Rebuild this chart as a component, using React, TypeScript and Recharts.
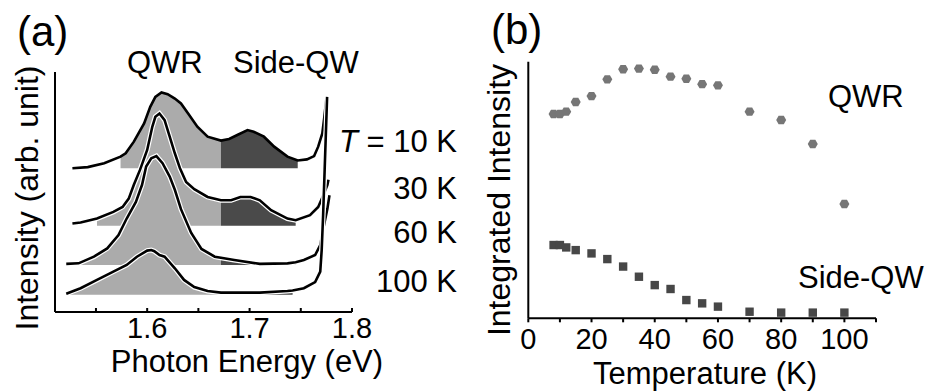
import React from 'react';
import { ComposedChart, Area, Line, Scatter, XAxis, YAxis } from 'recharts';

// ---------- Panel (a): PL spectra (photon energy in eV, stacked intensity in arb. units) ----------
const energy10K = [1.527, 1.542, 1.558, 1.574, 1.579, 1.587, 1.597, 1.603, 1.608, 1.614, 1.620, 1.627, 1.633, 1.640, 1.649, 1.659, 1.672, 1.680, 1.688, 1.698, 1.704, 1.714, 1.724, 1.737, 1.747, 1.756, 1.763, 1.767, 1.771, 1.773, 1.775];
const intensity10K = [2.26, 2.28, 2.35, 2.47, 2.53, 2.74, 3.07, 3.37, 3.55, 3.63, 3.60, 3.52, 3.43, 3.25, 3.01, 2.83, 2.76, 2.79, 2.86, 2.95, 2.92, 2.83, 2.65, 2.47, 2.40, 2.42, 2.48, 2.65, 2.89, 3.19, 3.52];

const energy30K = [1.527, 1.535, 1.551, 1.567, 1.576, 1.582, 1.587, 1.593, 1.600, 1.605, 1.608, 1.612, 1.617, 1.622, 1.627, 1.632, 1.638, 1.646, 1.659, 1.672, 1.682, 1.691, 1.701, 1.710, 1.721, 1.737, 1.745, 1.759, 1.767, 1.772, 1.776, 1.777];
const intensity30K = [1.26, 1.28, 1.35, 1.47, 1.56, 1.71, 1.96, 2.23, 2.59, 3.01, 3.19, 3.25, 3.13, 2.83, 2.53, 2.26, 2.01, 1.88, 1.74, 1.68, 1.68, 1.74, 1.74, 1.68, 1.50, 1.35, 1.32, 1.41, 1.56, 1.77, 1.96, 2.05];

const energy60K = [1.521, 1.533, 1.548, 1.561, 1.572, 1.580, 1.589, 1.595, 1.599, 1.604, 1.609, 1.615, 1.622, 1.627, 1.633, 1.643, 1.653, 1.666, 1.672, 1.685, 1.710, 1.737, 1.745, 1.753, 1.764, 1.769, 1.772, 1.776, 1.778];
const intensity60K = [0.53, 0.54, 0.66, 0.81, 1.05, 1.35, 1.65, 1.96, 2.29, 2.44, 2.48, 2.35, 2.11, 1.87, 1.52, 1.09, 0.80, 0.66, 0.64, 0.60, 0.53, 0.54, 0.56, 0.60, 0.69, 0.87, 1.17, 1.53, 1.77];

const energy100K = [1.521, 1.535, 1.551, 1.567, 1.580, 1.590, 1.600, 1.604, 1.607, 1.612, 1.617, 1.627, 1.636, 1.646, 1.659, 1.672, 1.710, 1.737, 1.742, 1.753, 1.764, 1.769, 1.7704, 1.7718, 1.7733, 1.7746, 1.7757];
const intensity100K = [-0.01, 0.09, 0.24, 0.39, 0.51, 0.66, 0.77, 0.78, 0.76, 0.69, 0.66, 0.45, 0.24, 0.11, 0.04, 0.01, 0.01, 0.04, 0.05, 0.09, 0.20, 0.39, 0.78, 1.41, 2.23, 2.95, 3.55];

const spectrumBaselines = [2.26, 1.22, 0.51, -0.03];
const qwrFillStart = [1.574, 1.551, 1.521, 1.521];
const qwrSideSplit = 1.672;
const sideFillEnd = [1.747, 1.745, 1.745, 1.742];
const temperatureLabels = ['T = 10 K', '30 K', '60 K', '100 K'];

const energyTicks = [1.55, 1.6, 1.65, 1.7, 1.75, 1.8];
const energyTickLabels = ['', '1.6', '', '1.7', '', '1.8'];
const intensityTicks = [0, 1, 2, 3, 4];

// ---------- Panel (b): integrated intensity vs temperature ----------
const temperatures = [8, 10, 12, 15, 20, 25, 30, 35, 40, 45, 50, 55, 60, 70, 80, 90, 100];
const qwrIntegrated = [6.83, 6.83, 6.91, 7.23, 7.43, 7.99, 8.33, 8.35, 8.31, 8.08, 8.01, 7.83, 7.79, 6.91, 6.63, 5.83, 3.82];
const sideQwIntegrated = [2.45, 2.45, 2.37, 2.28, 2.17, 1.98, 1.73, 1.39, 1.11, 0.98, 0.61, 0.50, 0.39, 0.22, 0.19, 0.19, 0.19];

const temperatureTicks = [0, 10, 20, 30, 40, 50, 60, 70, 80, 90, 100, 110];
const temperatureTickLabels = ['0', '', '20', '', '40', '', '60', '', '80', '', '100', ''];
const integratedTicks = [0, 1, 2, 3, 4, 5, 6, 7, 8];

const FONT = '"Liberation Sans", Arial, Helvetica, sans-serif';
const LIGHT = '#ababab';
const DARK = '#4a4a4a';

const zip = (e: number[], v: number[]) => e.map((x, i) => ({ e: x, v: v[i] }));
const spectra = [
  zip(energy10K, intensity10K),
  zip(energy30K, intensity30K),
  zip(energy60K, intensity60K),
  zip(energy100K, intensity100K),
];

const qwrPoints = temperatures.map((t, i) => ({ t, v: qwrIntegrated[i] }));
const sidePoints = temperatures.map((t, i) => ({ t, v: sideQwIntegrated[i] }));

const Hex = (props: any) => {
  const { cx, cy } = props;
  const pts = [
    [cx - 5, cy], [cx - 2.6, cy - 4.2], [cx + 2.6, cy - 4.2],
    [cx + 5, cy], [cx + 2.6, cy + 4.2], [cx - 2.6, cy + 4.2],
  ].map((p) => p.join(',')).join(' ');
  return <polygon points={pts} fill="#767676" />;
};
const Sq = (props: any) => {
  const { cx, cy } = props;
  return <rect x={cx - 4.2} y={cy - 4.2} width={8.4} height={8.4} fill="#474747" />;
};

const axisStyle = { stroke: '#000', strokeWidth: 2 };

export default function App() {
  const seriesA: React.ReactNode[] = [];
  spectra.forEach((data, i) => {
    const base = spectrumBaselines[i];
    const light = data.filter((d) => d.e >= qwrFillStart[i] && d.e <= qwrSideSplit);
    const dark = data.filter((d) => d.e >= qwrSideSplit && d.e <= sideFillEnd[i]);
    seriesA.push(
      <Area key={`l${i}`} data={light} type="linear" dataKey={(d: any) => [base, d.v]}
        fill={LIGHT} fillOpacity={1} stroke="none" isAnimationActive={false} dot={false} activeDot={false} />
    );
    seriesA.push(
      <Area key={`d${i}`} data={dark} type="linear" dataKey={(d: any) => [base, d.v]}
        fill={DARK} fillOpacity={1} stroke="none" isAnimationActive={false} dot={false} activeDot={false} />
    );
    if (i > 0) {
      seriesA.push(
        <Line key={`h${i}`} data={data} type="linear" dataKey="v" stroke="#fff" strokeWidth={5}
          dot={false} activeDot={false} isAnimationActive={false} />
      );
    }
    seriesA.push(
      <Line key={`c${i}`} data={data} type="linear" dataKey="v" stroke="#000" strokeWidth={2.6}
        dot={false} activeDot={false} isAnimationActive={false} />
    );
  });

  const txt = { fontFamily: FONT, fill: '#000' };

  return (
    <div style={{ position: 'absolute', left: 0, top: 0, width: 932, height: 391, background: '#fff' }}>
      <div style={{ position: 'absolute', left: 0, top: 0 }}>
        <ComposedChart width={466} height={391} margin={{ top: 72, right: 114, bottom: 49, left: 25 }}>
          <XAxis type="number" dataKey="e" domain={[1.51, 1.8]} allowDataOverflow ticks={energyTicks}
            tickFormatter={(v: number) => energyTickLabels[energyTicks.indexOf(v)] ?? ''}
            interval={0} height={30} tickSize={-4} tickMargin={9}
            axisLine={axisStyle} tickLine={axisStyle}
            tick={{ fill: '#000', fontSize: 29, fontFamily: FONT }}
            label={{
              value: 'Photon Energy (eV)',
              content: () => (
                <text x={247} y={372} textAnchor="middle" fontSize={31} {...txt}>Photon Energy (eV)</text>
              ),
            }}
          />
          <YAxis type="number" domain={[-0.34, 4]} allowDataOverflow ticks={intensityTicks} width={30}
            tick={false} tickSize={-5} axisLine={axisStyle} tickLine={axisStyle} interval={0}
            label={{
              value: 'Intensity (arb. unit)',
              content: () => (
                <text x={38} y={198} transform="rotate(-90, 38, 198)" textAnchor="middle" fontSize={32} {...txt}>Intensity (arb. unit)</text>
              ),
            }}
          />
          {seriesA}
        </ComposedChart>
      </div>
      <div style={{ position: 'absolute', left: 466, top: 0 }}>
        <ComposedChart width={466} height={391} margin={{ top: 61.7, right: 56, bottom: 42.7, left: 32.3 }}>
          <XAxis type="number" dataKey="t" domain={[0, 110]} allowDataOverflow ticks={temperatureTicks}
            tickFormatter={(v: number) => temperatureTickLabels[temperatureTicks.indexOf(v)] ?? ''}
            interval={0} height={30} tickSize={4} tickMargin={6}
            axisLine={axisStyle} tickLine={axisStyle}
            tick={{ fill: '#000', fontSize: 29, fontFamily: FONT }}
            label={{
              value: 'Temperature (K)',
              content: () => (
                <text x={239} y={384} textAnchor="middle" fontSize={31} {...txt}>Temperature (K)</text>
              ),
            }}
          />
          <YAxis type="number" dataKey="v" domain={[0, 8.58]} allowDataOverflow ticks={integratedTicks} width={30}
            tick={false} tickSize={-5} axisLine={axisStyle} tickLine={axisStyle} interval={0}
            label={{
              value: 'Integrated Intensity',
              content: () => (
                <text x={44} y={200} transform="rotate(-90, 44, 200)" textAnchor="middle" fontSize={32} {...txt}>Integrated Intensity</text>
              ),
            }}
          />
          <Scatter name="QWR" data={qwrPoints} shape={Hex} isAnimationActive={false} />
          <Scatter name="Side-QW" data={sidePoints} shape={Sq} isAnimationActive={false} />
        </ComposedChart>
      </div>
      <svg width={932} height={391} style={{ position: 'absolute', left: 0, top: 0, pointerEvents: 'none' }}>
        <text x={17} y={46} fontSize={42} {...txt}>(a)</text>
        <text x={127} y={73} fontSize={31} {...txt}>QWR</text>
        <text x={233} y={73} fontSize={31} {...txt}>Side-QW</text>
        <text x={457} y={152} fontSize={31} textAnchor="end" {...txt}>
          <tspan fontStyle="italic">T</tspan>{temperatureLabels[0].slice(1)}
        </text>
        <text x={457} y={199} fontSize={31} textAnchor="end" {...txt}>{temperatureLabels[1]}</text>
        <text x={457} y={243} fontSize={31} textAnchor="end" {...txt}>{temperatureLabels[2]}</text>
        <text x={457} y={292} fontSize={31} textAnchor="end" {...txt}>{temperatureLabels[3]}</text>
        <text x={491} y={44} fontSize={42} {...txt}>(b)</text>
        <text x={828} y={107} fontSize={31} {...txt}>QWR</text>
        <text x={798} y={288} fontSize={31} {...txt}>Side-QW</text>
      </svg>
    </div>
  );
}
